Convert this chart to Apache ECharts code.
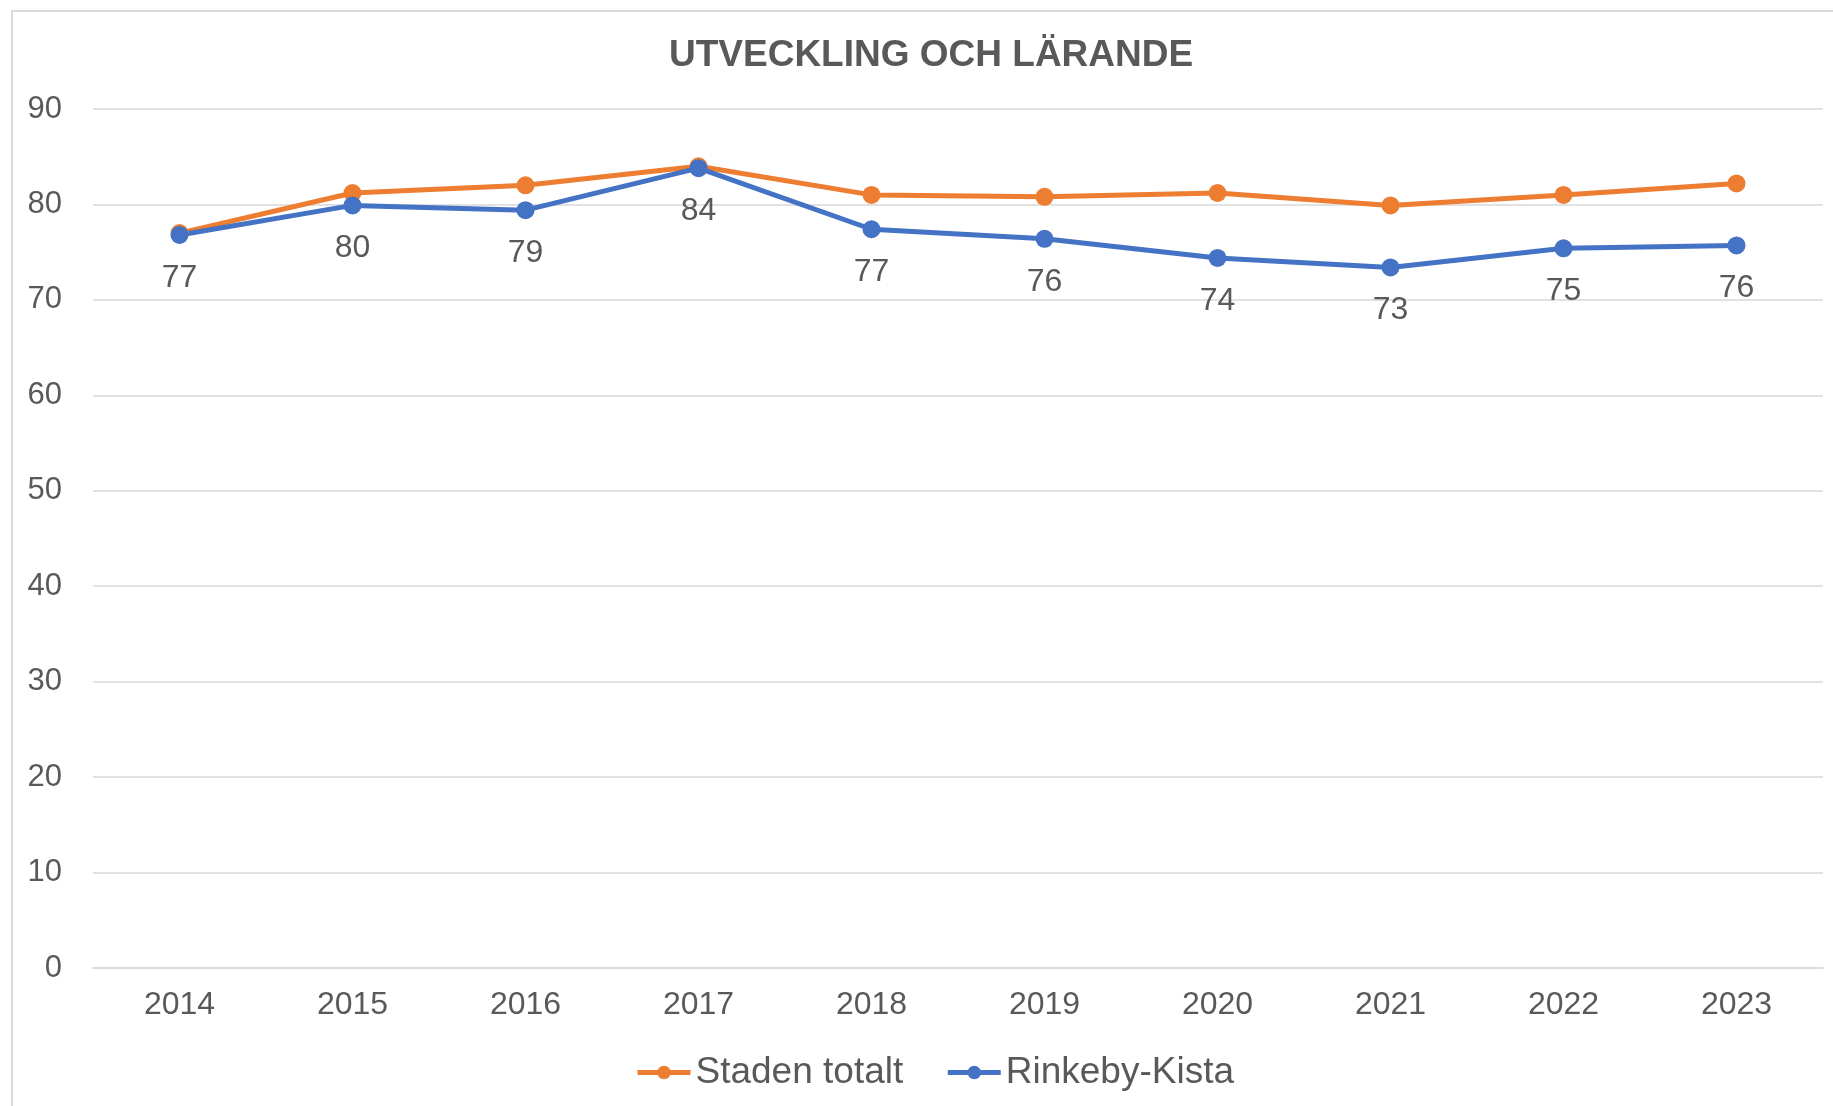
<!DOCTYPE html>
<html>
<head>
<meta charset="utf-8">
<title>Utveckling och lärande</title>
<script src="https://cdn.jsdelivr.net/npm/echarts@6/dist/echarts.min.js"></script>
<style>
  html, body { margin: 0; padding: 0; background: #fff; }
  #chart { width: 1833px; height: 1106px; }
</style>
</head>
<body>
<div id="chart"></div>
<script>
const years = ['2014', '2015', '2016', '2017', '2018', '2019', '2020', '2021', '2022', '2023']
const stadenTotalt = [77.0, 81.2, 82.0, 84.0, 81.0, 80.8, 81.2, 79.9, 81.0, 82.2]
const rinkebyKista = [76.8, 79.9, 79.4, 83.8, 77.4, 76.4, 74.4, 73.4, 75.4, 75.7]
const yTicks = [0, 10, 20, 30, 40, 50, 60, 70, 80, 90]

const font = '"Liberation Sans", Arial, sans-serif'
const textColor = '#595959'
const gridColor = '#d9d9d9'

const chart = echarts.init(document.getElementById('chart'))

const option = {
  backgroundColor: '#fff',
  animation: false,
  title: {
    text: 'UTVECKLING OCH LÄRANDE',
    left: 664,
    top: 32,
    textStyle: {
      fontFamily: font,
      fontSize: 37,
      fontWeight: 'bold',
      color: textColor
    }
  },
  legend: {
    left: 630,
    top: 1049,
    itemWidth: 53,
    itemHeight: 17,
    itemGap: 42,
    lineStyle: { width: 5 },
    textStyle: {
      fontFamily: font,
      fontSize: 37,
      color: textColor
    },
    data: ['Staden totalt', 'Rinkeby-Kista']
  },
  grid: {
    left: 93,
    right: 10,
    top: 109,
    bottom: 138,
    containLabel: false
  },
  xAxis: {
    type: 'category',
    data: years,
    boundaryGap: true,
    axisLine: { lineStyle: { color: gridColor, width: 1.5 } },
    axisTick: { show: false },
    axisLabel: {
      margin: 21,
      fontFamily: font,
      fontSize: 32,
      color: textColor
    }
  },
  yAxis: {
    type: 'value',
    min: yTicks[0],
    max: yTicks[yTicks.length - 1],
    interval: 10,
    axisLine: { show: false },
    axisTick: { show: false },
    splitLine: { lineStyle: { color: gridColor, width: 1.5 } },
    axisLabel: {
      margin: 31,
      fontFamily: font,
      fontSize: 31,
      color: textColor
    }
  },
  series: [
    {
      name: 'Staden totalt',
      type: 'line',
      data: stadenTotalt,
      symbol: 'circle',
      symbolSize: 18,
      itemStyle: { color: '#ED7D31' },
      lineStyle: { width: 5, color: '#ED7D31' }
    },
    {
      name: 'Rinkeby-Kista',
      type: 'line',
      data: rinkebyKista,
      symbol: 'circle',
      symbolSize: 18,
      itemStyle: { color: '#4472C4' },
      lineStyle: { width: 5, color: '#4472C4' },
      label: {
        show: true,
        position: 'bottom',
        distance: 18,
        fontFamily: font,
        fontSize: 32,
        color: textColor,
        formatter: p => Math.round(p.value)
      }
    }
  ],
  graphic: [
    {
      type: 'polyline',
      shape: { points: [[12, 1106], [12, 11], [1833, 11]] },
      style: { stroke: gridColor, lineWidth: 2, fill: null },
      silent: true
    }
  ]
}

chart.setOption(option)
</script>
</body>
</html>
